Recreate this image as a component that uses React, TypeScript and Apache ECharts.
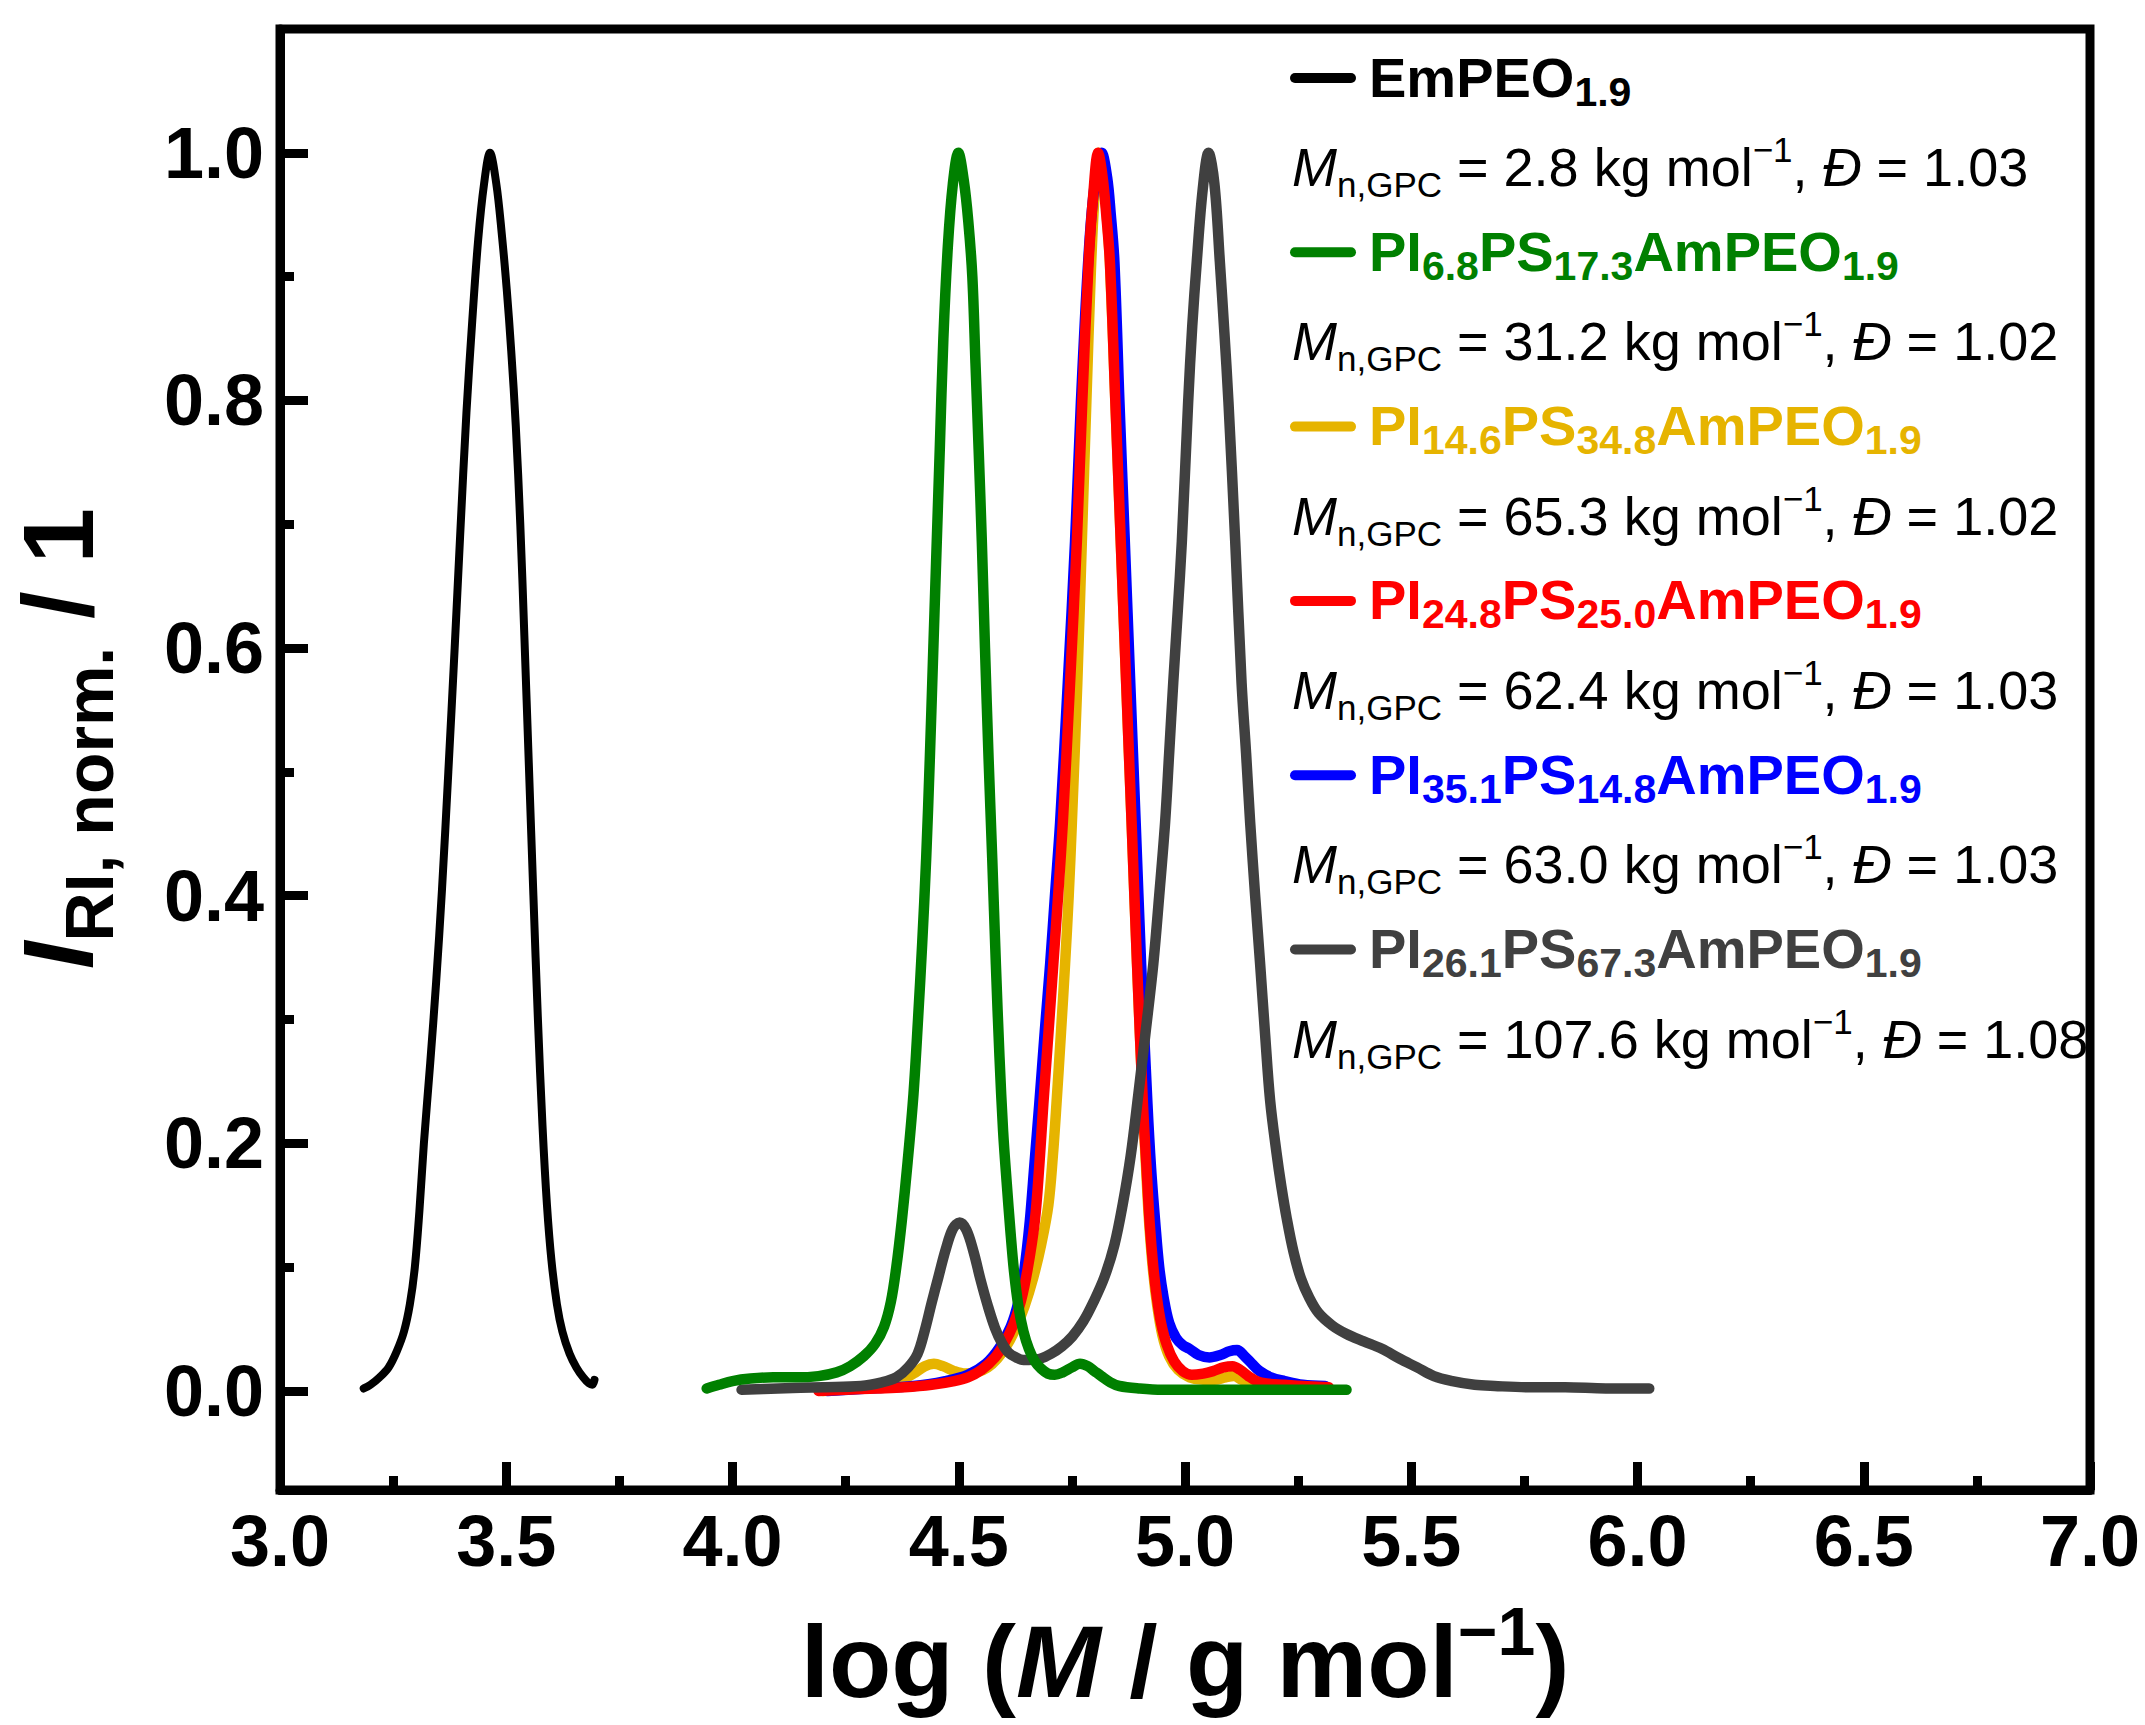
import React from "react";
import * as echarts from "echarts";

const FONT = "'Liberation Sans', Arial, Helvetica, sans-serif";

// log M (x) vs normalised RI signal (y)
const emPeo: number[][] = [
  [3.185, 0.002], [3.2, 0.005], [3.22, 0.011], [3.24, 0.019], [3.258, 0.032], [3.274, 0.048],
  [3.287, 0.07], [3.298, 0.1], [3.308, 0.145], [3.318, 0.2], [3.332, 0.265], [3.345, 0.33],
  [3.358, 0.405], [3.372, 0.5], [3.386, 0.6], [3.398, 0.69], [3.412, 0.79], [3.425, 0.865],
  [3.438, 0.93], [3.451, 0.975], [3.464, 1.0], [3.478, 0.975], [3.49, 0.935], [3.501, 0.89],
  [3.511, 0.84], [3.521, 0.78], [3.531, 0.7], [3.54, 0.61], [3.55, 0.505], [3.56, 0.4],
  [3.57, 0.3], [3.58, 0.215], [3.59, 0.15], [3.6, 0.105], [3.612, 0.07], [3.624, 0.048],
  [3.64, 0.03], [3.655, 0.019], [3.67, 0.011], [3.683, 0.006], [3.69, 0.005], [3.695, 0.009],
];

const pi68: number[][] = [
  [3.943, 0.002], [3.97, 0.005], [4.0, 0.008], [4.04, 0.01], [4.09, 0.011], [4.14, 0.011],
  [4.19, 0.012], [4.23, 0.015], [4.26, 0.02], [4.29, 0.028], [4.315, 0.038], [4.335, 0.052],
  [4.35, 0.072], [4.362, 0.1], [4.374, 0.137], [4.387, 0.185], [4.4, 0.24], [4.41, 0.3],
  [4.419, 0.36], [4.428, 0.43], [4.436, 0.51], [4.443, 0.59], [4.45, 0.67], [4.458, 0.76],
  [4.466, 0.85], [4.476, 0.925], [4.487, 0.975], [4.499, 1.0], [4.511, 0.978], [4.521, 0.945],
  [4.53, 0.9], [4.537, 0.83], [4.544, 0.76], [4.551, 0.686], [4.558, 0.6], [4.566, 0.51],
  [4.574, 0.43], [4.582, 0.345], [4.59, 0.27], [4.598, 0.21], [4.606, 0.168], [4.614, 0.13],
  [4.622, 0.097], [4.632, 0.068], [4.643, 0.048], [4.655, 0.034], [4.668, 0.024], [4.682, 0.018],
  [4.697, 0.014], [4.712, 0.013], [4.73, 0.015], [4.75, 0.019], [4.768, 0.022], [4.785, 0.02],
  [4.8, 0.016], [4.815, 0.012], [4.835, 0.007], [4.855, 0.004], [4.9, 0.002], [4.95, 0.001],
  [5.1, 0.001], [5.25, 0.001], [5.357, 0.001],
];

const pi146: number[][] = [
  [4.2, 0.0], [4.28, 0.002], [4.34, 0.004], [4.37, 0.008], [4.4, 0.014], [4.425, 0.02],
  [4.445, 0.022], [4.465, 0.02], [4.49, 0.016], [4.515, 0.014], [4.54, 0.015], [4.564, 0.019],
  [4.585, 0.026], [4.605, 0.036], [4.625, 0.05], [4.645, 0.068], [4.665, 0.092], [4.682, 0.118],
  [4.698, 0.15], [4.708, 0.19], [4.716, 0.232], [4.726, 0.29], [4.735, 0.345], [4.743, 0.4],
  [4.75, 0.459], [4.762, 0.572], [4.772, 0.686], [4.782, 0.799], [4.792, 0.905], [4.8, 0.965],
  [4.809, 1.0], [4.819, 0.98], [4.827, 0.95], [4.834, 0.912], [4.846, 0.8], [4.858, 0.686],
  [4.87, 0.572], [4.882, 0.459], [4.894, 0.345], [4.907, 0.232], [4.914, 0.18], [4.921, 0.135],
  [4.93, 0.095], [4.939, 0.068], [4.95, 0.045], [4.965, 0.028], [4.985, 0.017], [5.01, 0.011],
  [5.04, 0.009], [5.065, 0.009], [5.09, 0.011], [5.108, 0.012], [5.125, 0.009], [5.145, 0.006],
  [5.17, 0.004], [5.21, 0.003], [5.26, 0.002],
];

const pi248: number[][] = [
  [4.19, 0.0], [4.25, 0.001], [4.32, 0.002], [4.38, 0.003], [4.44, 0.005], [4.49, 0.008],
  [4.52, 0.011], [4.55, 0.017], [4.58, 0.027], [4.6, 0.038], [4.62, 0.053], [4.637, 0.072],
  [4.652, 0.098], [4.668, 0.137], [4.678, 0.182], [4.687, 0.232], [4.698, 0.288], [4.709, 0.345],
  [4.72, 0.402], [4.73, 0.459], [4.746, 0.572], [4.761, 0.686], [4.773, 0.799], [4.787, 0.912],
  [4.797, 0.965], [4.808, 1.0], [4.818, 0.98], [4.826, 0.95], [4.834, 0.912], [4.846, 0.8],
  [4.858, 0.686], [4.87, 0.572], [4.882, 0.459], [4.894, 0.345], [4.907, 0.232], [4.915, 0.18],
  [4.922, 0.135], [4.93, 0.1], [4.938, 0.075], [4.947, 0.055], [4.96, 0.037], [4.976, 0.024],
  [4.995, 0.016], [5.015, 0.013], [5.04, 0.014], [5.062, 0.016], [5.085, 0.019], [5.105, 0.02],
  [5.122, 0.017], [5.14, 0.012], [5.158, 0.008], [5.18, 0.006], [5.22, 0.005], [5.26, 0.004],
  [5.318, 0.003],
];

const pi351: number[][] = [
  [4.21, 0.0], [4.3, 0.002], [4.4, 0.004], [4.47, 0.008], [4.52, 0.013], [4.56, 0.022],
  [4.59, 0.035], [4.615, 0.052], [4.632, 0.072], [4.645, 0.098], [4.657, 0.137], [4.667, 0.182],
  [4.678, 0.232], [4.69, 0.29], [4.702, 0.345], [4.713, 0.402], [4.724, 0.459], [4.741, 0.572],
  [4.757, 0.686], [4.77, 0.799], [4.786, 0.912], [4.799, 0.97], [4.816, 1.0], [4.828, 0.98],
  [4.836, 0.95], [4.844, 0.912], [4.855, 0.8], [4.867, 0.686], [4.879, 0.572], [4.891, 0.459],
  [4.903, 0.345], [4.917, 0.232], [4.925, 0.18], [4.934, 0.137], [4.943, 0.1], [4.953, 0.075],
  [4.965, 0.055], [4.98, 0.043], [4.995, 0.037], [5.01, 0.034], [5.03, 0.029], [5.054, 0.027],
  [5.078, 0.029], [5.098, 0.032], [5.115, 0.033], [5.132, 0.028], [5.148, 0.022], [5.165, 0.016],
  [5.19, 0.011], [5.22, 0.008], [5.26, 0.005], [5.31, 0.004],
];

const pi261: number[][] = [
  [4.02, 0.001], [4.1, 0.002], [4.2, 0.003], [4.284, 0.004], [4.33, 0.007], [4.362, 0.011],
  [4.388, 0.019], [4.409, 0.03], [4.425, 0.049], [4.44, 0.071], [4.455, 0.092], [4.471, 0.114],
  [4.487, 0.131], [4.502, 0.136], [4.517, 0.13], [4.533, 0.112], [4.548, 0.09], [4.564, 0.069],
  [4.58, 0.051], [4.595, 0.039], [4.61, 0.031], [4.627, 0.027], [4.643, 0.025], [4.655, 0.025],
  [4.68, 0.026], [4.704, 0.03], [4.728, 0.036], [4.751, 0.044], [4.775, 0.056], [4.798, 0.072],
  [4.822, 0.092], [4.844, 0.118], [4.862, 0.15], [4.88, 0.19], [4.897, 0.24], [4.913, 0.29],
  [4.93, 0.345], [4.943, 0.4], [4.956, 0.459], [4.965, 0.515], [4.974, 0.572], [4.984, 0.63],
  [4.993, 0.686], [5.007, 0.799], [5.016, 0.86], [5.026, 0.912], [5.039, 0.97], [5.052, 1.0],
  [5.065, 0.975], [5.077, 0.912], [5.087, 0.855], [5.096, 0.799], [5.111, 0.686], [5.125, 0.572],
  [5.135, 0.515], [5.144, 0.459], [5.155, 0.4], [5.166, 0.345], [5.177, 0.288], [5.188, 0.235],
  [5.202, 0.193], [5.213, 0.165], [5.225, 0.139], [5.24, 0.112], [5.256, 0.091], [5.275, 0.075],
  [5.295, 0.063], [5.325, 0.053], [5.357, 0.046], [5.395, 0.04], [5.435, 0.034], [5.475, 0.026],
  [5.513, 0.019], [5.55, 0.012], [5.591, 0.008], [5.64, 0.005], [5.684, 0.004], [5.76, 0.003],
  [5.84, 0.003], [5.93, 0.002], [6.026, 0.002],
];

// legend order (top to bottom)
const seriesNames = [
  "EmPEO1.9",
  "PI6.8PS17.3AmPEO1.9",
  "PI14.6PS34.8AmPEO1.9",
  "PI24.8PS25.0AmPEO1.9",
  "PI35.1PS14.8AmPEO1.9",
  "PI26.1PS67.3AmPEO1.9",
];
// block name pieces: main, sub, main, sub ...
const nameParts = [
  ["EmPEO", "1.9"],
  ["PI", "6.8", "PS", "17.3", "AmPEO", "1.9"],
  ["PI", "14.6", "PS", "34.8", "AmPEO", "1.9"],
  ["PI", "24.8", "PS", "25.0", "AmPEO", "1.9"],
  ["PI", "35.1", "PS", "14.8", "AmPEO", "1.9"],
  ["PI", "26.1", "PS", "67.3", "AmPEO", "1.9"],
];
const seriesColors = ["#000000", "#008000", "#E6B400", "#FF0000", "#0000FF", "#404040"];
const seriesData = [emPeo, pi68, pi146, pi248, pi351, pi261];
const lineWidths = [8, 10.5, 10.5, 10.5, 10.5, 10.5];
const mnGpc = ["2.8", "31.2", "65.3", "62.4", "63.0", "107.6"];
const dispersity = ["1.03", "1.02", "1.02", "1.03", "1.03", "1.08"];
// painting order, back to front
const drawOrder = [2, 4, 3, 5, 1, 0];

const yMajor = [0, 0.2, 0.4, 0.6, 0.8, 1.0];
const yMinor = [0.1, 0.3, 0.5, 0.7, 0.9];

export default function App() {
  const ref = React.useRef<HTMLDivElement>(null);

  React.useEffect(() => {
    if (!ref.current) return;
    const chart = echarts.init(ref.current, undefined, { renderer: "svg" });

    const tick = { color: "#000", width: 9 };
    const labelStyle = {
      color: "#000",
      fontSize: 72,
      fontWeight: "bold" as const,
      fontFamily: FONT,
    };

    // legend drawn as graphic: line + block name, then the GPC line
    const legend: any[] = [];
    seriesNames.forEach((_, i) => {
      const ly = 78 + 174.3 * i;
      const c = seriesColors[i];
      const title = nameParts[i]
        .map((p, k) => (k % 2 === 0 ? `{m|${p}}` : `{s|${p}}`))
        .join("");
      legend.push({
        type: "line",
        shape: { x1: 1295, y1: ly, x2: 1351, y2: ly },
        style: { stroke: c, lineWidth: 10, lineCap: "round" },
      });
      legend.push({
        type: "text",
        x: 1369,
        y: ly - 1,
        style: {
          text: title,
          align: "left",
          verticalAlign: "middle",
          rich: {
            m: { fontSize: 56, fontWeight: "bold", fontFamily: FONT, fill: c, lineHeight: 70 },
            s: {
              fontSize: 41, fontWeight: "bold", fontFamily: FONT, fill: c,
              lineHeight: 29, verticalAlign: "bottom",
            },
          },
        },
      });
      legend.push({
        type: "text",
        x: 1292,
        y: ly + 89,
        style: {
          text: `{i|M}{s|n,GPC}{m| = ${mnGpc[i]} kg mol}{p|−1}{m|, }{i|Đ}{m| = ${dispersity[i]}}`,
          align: "left",
          verticalAlign: "middle",
          rich: {
            m: { fontSize: 54, fontFamily: FONT, fill: "#000", lineHeight: 70 },
            i: { fontSize: 54, fontStyle: "italic", fontFamily: FONT, fill: "#000", lineHeight: 70 },
            s: { fontSize: 35, fontFamily: FONT, fill: "#000", lineHeight: 31, verticalAlign: "bottom" },
            p: { fontSize: 35, fontFamily: FONT, fill: "#000", lineHeight: 37, verticalAlign: "top" },
          },
        },
      });
    });

    const option: echarts.EChartsOption = {
      animation: false,
      backgroundColor: "#fff",
      grid: {
        left: 280, top: 29, width: 1810, height: 1461,
        show: true, borderColor: "#000", borderWidth: 9,
      },
      xAxis: {
        type: "value",
        min: 3,
        max: 7,
        interval: 0.5,
        name: "{m|log (}{i|M}{m| / g mol}{p|−1}{m|)}",
        nameLocation: "middle",
        nameGap: 107,
        nameTextStyle: {
          rich: {
            m: { fontSize: 102, fontWeight: "bold", fontFamily: FONT, color: "#000", lineHeight: 130 },
            i: {
              fontSize: 102, fontWeight: "bold", fontStyle: "italic", fontFamily: FONT,
              color: "#000", lineHeight: 130,
            },
            p: {
              fontSize: 68, fontWeight: "bold", fontFamily: FONT, color: "#000",
              lineHeight: 64, verticalAlign: "top",
            },
          },
        },
        axisLine: { show: true, onZero: false, lineStyle: tick },
        axisTick: { show: true, inside: true, length: 28, lineStyle: tick },
        minorTick: { show: true, splitNumber: 2, length: 14, lineStyle: tick },
        splitLine: { show: false },
        axisLabel: { ...labelStyle, margin: 15, formatter: (v: number) => v.toFixed(1) },
      },
      yAxis: [
        {
          type: "value",
          min: -0.08,
          max: 1.1,
          name: "{i|I}{s|RI, norm.}{m| / 1}",
          nameLocation: "middle",
          nameRotate: 90,
          nameGap: 157,
          nameTextStyle: {
            padding: [0, 0, 0, 42],
            rich: {
              i: {
                fontSize: 100, fontWeight: "bold", fontStyle: "italic", fontFamily: FONT,
                color: "#000", lineHeight: 130,
              },
              s: {
                fontSize: 68, fontWeight: "bold", fontFamily: FONT, color: "#000",
                lineHeight: 50, verticalAlign: "bottom",
              },
              m: { fontSize: 100, fontWeight: "bold", fontFamily: FONT, color: "#000", lineHeight: 130 },
            },
          },
          axisLine: { show: true, onZero: false, lineStyle: tick },
          axisTick: { show: true, inside: true, length: 28, lineStyle: tick, customValues: yMajor },
          splitLine: { show: false },
          axisLabel: {
            ...labelStyle,
            margin: 16,
            customValues: yMajor,
            formatter: (v: number) => v.toFixed(1),
          },
        },
        {
          // minor ticks only
          type: "value",
          min: -0.08,
          max: 1.1,
          position: "left",
          axisLine: { show: false, onZero: false },
          axisTick: { show: true, inside: true, length: 14, lineStyle: tick, customValues: yMinor },
          axisLabel: { show: false },
          splitLine: { show: false },
        },
      ],
      series: drawOrder.map((i) => ({
        name: seriesNames[i],
        type: "line",
        data: seriesData[i],
        yAxisIndex: 0,
        showSymbol: false,
        symbol: "none",
        smooth: 0.35,
        lineStyle: { color: seriesColors[i], width: lineWidths[i], cap: "round", join: "round" },
        itemStyle: { color: seriesColors[i] },
      })),
      graphic: legend,
    };

    chart.setOption(option);
    return () => {
      chart.dispose();
    };
  }, []);

  return (
    <div
      ref={ref}
      style={{ position: "absolute", left: 0, top: 0, width: 2145, height: 1725, background: "#fff" }}
    />
  );
}
